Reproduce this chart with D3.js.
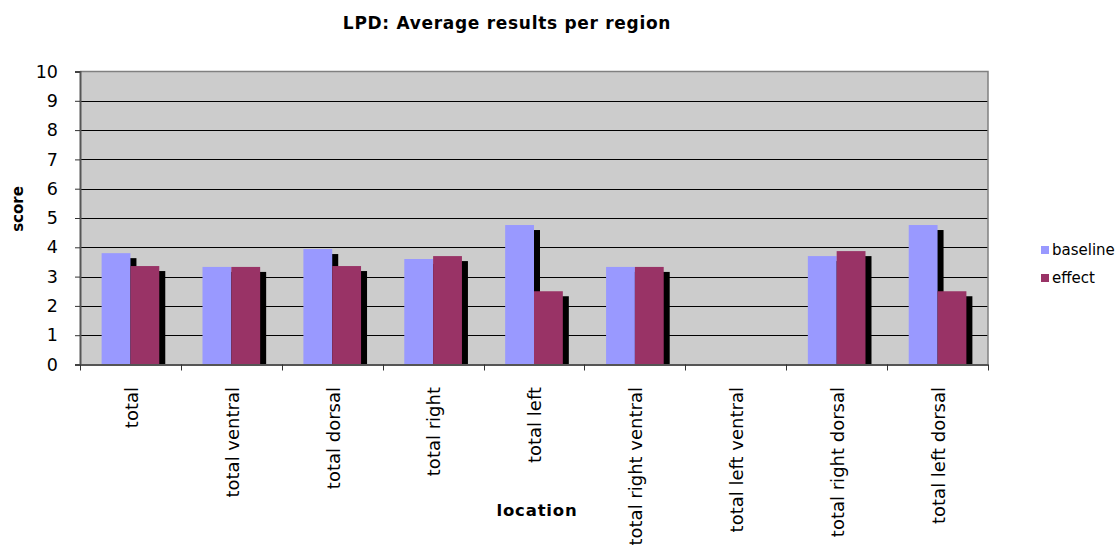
<!DOCTYPE html>
<html>
<head>
<meta charset="utf-8">
<script src="https://cdn.jsdelivr.net/npm/d3@7"></script>
<style>
  html, body { margin: 0; padding: 0; background: #fff; }
  svg { display: block; font-family: "DejaVu Sans", Verdana, sans-serif; }
</style>
</head>
<body>
<svg id="chart" width="1120" height="547"></svg>
<script>
const categories = ["total", "total ventral", "total dorsal", "total right", "total left",
  "total right ventral", "total left ventral", "total right dorsal", "total left dorsal"];
const seriesNames = ["baseline", "effect"];
const baseline = [3.8, 3.33, 3.94, 3.6, 4.76, 3.33, 0, 3.7, 4.76];
const effect = [3.36, 3.33, 3.36, 3.7, 2.5, 3.33, 0, 3.87, 2.5];
const yTicks = [0, 1, 2, 3, 4, 5, 6, 7, 8, 9, 10];
const colors = ["#9999FF", "#993366"];

const svg = d3.select("#chart");
const plot = { left: 80, right: 988, top: 71.5, bottom: 364.5 };

const x = d3.scaleBand().domain(categories).range([plot.left, plot.right]).padding(0);
const xs = d3.scaleBand().domain(seriesNames).range([0, x.bandwidth()]).paddingInner(0).paddingOuter(0.75);
const y = d3.scaleLinear().domain([0, 10]).range([plot.bottom, plot.top]);

// plot background
svg.append("rect")
  .attr("x", plot.left).attr("y", plot.top)
  .attr("width", plot.right - plot.left).attr("height", plot.bottom - plot.top)
  .attr("fill", "#CCCCCC");

// gridlines
svg.append("g").selectAll("line").data(yTicks.filter(d => d > 0 && d < 10)).join("line")
  .attr("x1", plot.left).attr("x2", plot.right)
  .attr("y1", d => Math.round(y(d)) + 0.5).attr("y2", d => Math.round(y(d)) + 0.5)
  .attr("stroke", "#000").attr("stroke-width", 1);

// bars with shadows
const data = categories.map((c, i) => ({ cat: c, values: [baseline[i], effect[i]] }));
const groups = svg.append("g").selectAll("g").data(data).join("g")
  .attr("transform", d => `translate(${x(d.cat)},0)`);
groups.each(function(d) {
  const g = d3.select(this);
  d.values.forEach((v, si) => {
    if (v <= 0) return;
    const bx = xs(seriesNames[si]);
    const bw = xs.bandwidth();
    g.append("rect")
      .attr("x", bx + 6).attr("y", y(v) + 5)
      .attr("width", bw).attr("height", Math.max(0, plot.bottom - y(v) - 5))
      .attr("fill", "#000");
    g.append("rect")
      .attr("x", bx).attr("y", y(v))
      .attr("width", bw).attr("height", plot.bottom - y(v))
      .attr("fill", colors[si]);
  });
});

// plot border (top/right)
svg.append("path")
  .attr("d", `M${plot.left},${plot.top}H${plot.right}V${plot.bottom}`)
  .attr("fill", "none").attr("stroke", "#808080").attr("stroke-width", 1.5);

// y axis
const yAxis = d3.axisLeft(y).tickValues(yTicks).tickSize(5).tickPadding(17).tickFormat(d3.format("d"));
const yg = svg.append("g").attr("transform", `translate(${plot.left},0)`).call(yAxis);
yg.select(".domain").attr("stroke", "#555").attr("stroke-width", 2);
yg.selectAll(".tick line").attr("stroke", "#333");
yg.selectAll(".tick text").attr("font-size", 17.5).attr("fill", "#000")
  .attr("font-family", "DejaVu Sans, Verdana, sans-serif");

// x axis
const xAxis = d3.axisBottom(x).tickSize(0).tickFormat("");
const xg = svg.append("g").attr("transform", `translate(0,${plot.bottom})`).call(xAxis);
xg.select(".domain").attr("stroke", "#555").attr("stroke-width", 2);
xg.selectAll(".tick").remove();
svg.append("g").selectAll("line").data(d3.range(categories.length + 1)).join("line")
  .attr("x1", i => Math.round(plot.left + i * x.step()) + 0.5)
  .attr("x2", i => Math.round(plot.left + i * x.step()) + 0.5)
  .attr("y1", plot.bottom).attr("y2", plot.bottom + 6)
  .attr("stroke", "#333");

svg.append("g").selectAll("text").data(categories).join("text")
  .attr("transform", d => `translate(${x(d) + x.bandwidth() / 2 + 1},387) rotate(-90)`)
  .attr("text-anchor", "end").attr("dy", "0.35em")
  .attr("font-size", 18).attr("fill", "#000")
  .text(d => d);

// titles
svg.append("text").attr("x", 507).attr("y", 28.5).attr("text-anchor", "middle")
  .attr("font-size", 17).attr("font-weight", "bold").attr("letter-spacing", 0.7)
  .text("LPD: Average results per region");
svg.append("text").attr("x", 537).attr("y", 516).attr("text-anchor", "middle")
  .attr("font-size", 16.5).attr("font-weight", "bold").attr("letter-spacing", 0.8)
  .text("location");
svg.append("text").attr("transform", "translate(23,209) rotate(-90)").attr("text-anchor", "middle")
  .attr("font-size", 15).attr("font-weight", "bold").text("score");

// legend
const lg = svg.append("g").selectAll("g").data(seriesNames).join("g")
  .attr("transform", (d, i) => `translate(1041,${246 + i * 28})`);
lg.append("rect").attr("width", 8).attr("height", 8).attr("fill", (d, i) => colors[i]);
lg.append("text").attr("x", 11).attr("y", 4).attr("dy", "0.35em")
  .attr("font-size", 15).attr("fill", "#000").text(d => d);
</script>
</body>
</html>
